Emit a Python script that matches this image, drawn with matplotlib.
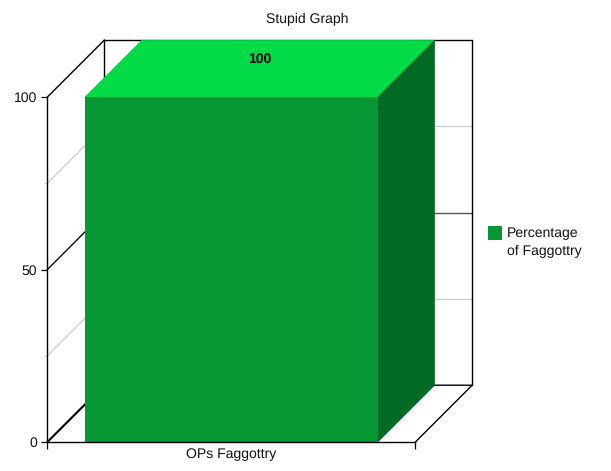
import matplotlib
matplotlib.use('Agg')
import matplotlib.pyplot as plt
from matplotlib.patches import Polygon, Rectangle

categories = ['OPs Faggottry']
values = [100]
series_name = 'Percentage\nof Faggottry'
major_ticks = [0, 50, 100]
minor_ticks = [25, 75]
title = 'Stupid Graph'

W, H = 611, 471
plt.rcParams['font.family'] = ['Liberation Sans', 'DejaVu Sans']
plt.rcParams['font.size'] = 10.25
plt.rcParams['text.hinting'] = 'none'
plt.rcParams['text.hinting_factor'] = 1

fig = plt.figure(figsize=(W / 100, H / 100), dpi=100)
ax = fig.add_axes([47.2 / W, (H - 442.2) / H, 368 / W, 345 / H])
ax.set_xlim(-0.5, 0.5)
ax.set_ylim(0, 100)

# depth of the fake 3d box, in data units
dx = 57 / 368
dy = 57 / 3.45
x0, x1 = -0.5, 0.5

# walls and grid behind the bar
for t in major_ticks:
    lw = 1.5 if t == 0 else 1.0
    ax.plot([x0, x0 + dx], [t, t + dy], color='black', lw=lw, clip_on=False, zorder=1)
    if t == 50:
        ax.plot([x0 + dx, x1 + dx], [t + dy, t + dy], color='#555555', lw=1.0, clip_on=False, zorder=1)
for t in minor_ticks:
    ax.plot([x0, x0 + dx], [t, t + dy], color='#cccccc', lw=0.9, clip_on=False, zorder=1)
    ax.plot([x0 + dx, x1 + dx], [t + dy, t + dy], color='#cccccc', lw=0.9, clip_on=False, zorder=1)

ax.plot([x0 + dx, x1 + dx, x1 + dx], [100 + dy, 100 + dy, dy], color='black', lw=1.0, clip_on=False, zorder=1)
ax.plot([x0 + dx, x0 + dx], [dy, 100 + dy], color='black', lw=1.0, clip_on=False, zorder=1)
ax.plot([x0 + dx, x1 + dx, x1], [dy, dy, 0], color='black', lw=1.0, clip_on=False, zorder=1)

# bar: top and side faces first, front face over them
bar_w = 0.796
for i, v in enumerate(values):
    l, r = i - bar_w / 2, i + bar_w / 2
    ax.add_patch(Polygon([(l, v), (r, v), (r + dx, v + dy), (l + dx, v + dy)],
                         fc='#00db47', ec='#00db47', lw=0.4, zorder=3, clip_on=False))
    ax.add_patch(Polygon([(r, 0), (r, v), (r + dx, v + dy), (r + dx, dy)],
                         fc='#006b24', ec='#006b24', lw=0.4, zorder=3, clip_on=False))
    ax.bar(i, v, width=bar_w, color='#049733', zorder=4, clip_on=False)
    ax.text(i + dx / 2, v + dy * 0.66, str(v), ha='center', va='center',
            fontweight='bold', zorder=5)

for s in ['top', 'right']:
    ax.spines[s].set_visible(False)
for s in ['left', 'bottom']:
    ax.spines[s].set_linewidth(1.0)
    ax.spines[s].set_zorder(6)

ax.set_yticks(major_ticks)
ax.set_yticks(minor_ticks, minor=True)
ax.tick_params(axis='y', which='major', length=4.3, width=0.9, pad=3.2, labelcolor='#111111')
ax.tick_params(axis='y', which='minor', length=2.5, width=0.8, color='#cccccc')

ax.set_xticks(range(len(categories)), categories, color='#111111')
ax.set_xticks([x0, x1], minor=True)
ax.tick_params(axis='x', which='major', length=0, pad=4.5)
ax.tick_params(axis='x', which='minor', length=4.8, width=0.9)

fig.text(307 / W, (H - 19) / H, title, ha='center', va='center', color='#111111')

# legend swatch sits on the first text line
fig.add_artist(Rectangle((488 / W, (H - 240) / H), 14 / W, 14 / H, color='#049733', lw=0,
                         transform=fig.transFigure))
fig.text(507 / W, (H - 242.5) / H, series_name, ha='left', va='center', color='#111111',
         linespacing=1.45)

fig.savefig('out.png', dpi=100)
